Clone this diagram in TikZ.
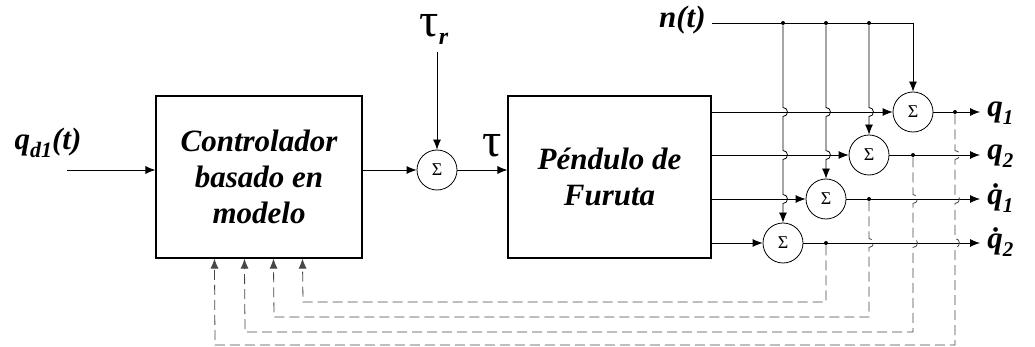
\documentclass[tikz,border=0pt]{standalone}
\usepackage{fontspec}
\setmainfont{Liberation Serif}
\usetikzlibrary{arrows.meta}
\newcommand\hopv[2]{-- (#1,#2-4.5) arc[start angle=90,end angle=-90,radius=4.5pt]}
\begin{document}
\begin{tikzpicture}[x=1pt,y=-1pt,
  line width=0.8pt,
  arr/.style={-{Latex[length=10pt,width=8pt]}},
  sumnode/.style={circle,draw,minimum size=40pt,inner sep=0pt,font=\fontsize{18}{18}\selectfont},
  block/.style={draw,line width=1.1pt,inner sep=0pt,align=center,font=\fontsize{31}{36}\selectfont\bfseries\itshape},
  lab/.style={inner sep=0pt,font=\fontsize{31}{31}\selectfont\bfseries\itshape},
  greek/.style={inner sep=0pt,anchor=base,font=\fontsize{48}{48}\selectfont,text height=24pt},
  fb/.style={dash pattern=on 10pt off 5pt,draw=black!72},
  dot/.style={circle,fill,inner sep=0pt,minimum size=4pt}]
\useasboundingbox (0,0) rectangle (1035,347);
% blocks
\node[block,minimum width=206pt,minimum height=162pt] (ctrl) at (259,177) {Controlador\\basado en\\modelo};
\node[block,minimum width=203pt,minimum height=162pt] (plant) at (609.5,177) {Péndulo de\\Furuta};
\node[sumnode] (s0) at (437,170) {Σ};
\node[sumnode] (sa) at (913,112) {Σ};
\node[sumnode] (sb) at (869,155) {Σ};
\node[sumnode] (sc) at (826,199) {Σ};
\node[sumnode] (sd) at (783,243) {Σ};
% labels
\node[lab] (qd) at (48,143) {q\raisebox{-0.28em}{\fontsize{22}{22}\selectfont d1}(t)};
\coordinate (qin) at (67,170);
\node[greek] (tr) at (434,37) {τ\raisebox{-0.15em}{\fontsize{24}{24}\selectfont\bfseries\itshape r}};
\coordinate (trin) at (437,52);
\node[greek] (tau) at (492,157) {τ};
\node[lab,anchor=east] (nt) at (706,20) {n(t)};
% outputs labels
\node[lab,anchor=west] (o1) at (987,113) {q\raisebox{-0.25em}{\fontsize{21}{21}\selectfont 1}};
\node[lab,anchor=west] (o2) at (987,156) {q\raisebox{-0.25em}{\fontsize{21}{21}\selectfont 2}};
\node[lab,anchor=west] (o3) at (987,198) {\.q\raisebox{-0.25em}{\fontsize{21}{21}\selectfont 1}};
\node[lab,anchor=west] (o4) at (987,242) {\.q\raisebox{-0.25em}{\fontsize{21}{21}\selectfont 2}};
\coordinate (e1) at (980,112);
\coordinate (e2) at (980,155);
\coordinate (e3) at (980,199);
\coordinate (e4) at (980,243);
% main path
\draw[arr] (qin) -- (qin -| ctrl.west);
\draw[arr] (ctrl.east |- s0) -- (s0.west);
\draw[arr] (trin) -- (s0.north);
\draw[arr] (s0.east) -- (s0 -| plant.west);
% plant outputs
\draw[arr] (plant.east |- sa) -- (sa.west);
\draw[arr] (plant.east |- sb) -- (sb.west);
\draw[arr] (plant.east |- sc) -- (sc.west);
\draw[arr] (plant.east |- sd) -- (sd.west);
% noise
\coordinate (n0) at (712,23);
\node[dot] (nd) at (783,23) {};
\node[dot] (nc) at (826,23) {};
\node[dot] (nb) at (869,23) {};
\draw[arr] (n0) -- (913,23) -- (sa.north);
\draw[arr] (nd) \hopv{783}{112} \hopv{783}{155} \hopv{783}{199} -- (sd.north);
\draw[arr] (nc) \hopv{826}{112} \hopv{826}{155} -- (sc.north);
\draw[arr] (nb) \hopv{869}{112} -- (sb.north);
% sum outputs
\draw[arr] (sa.east) -- (e1);
\draw[arr] (sb.east) -- (e2);
\draw[arr] (sc.east) -- (e3);
\draw[arr] (sd.east) -- (e4);
\node[dot] (d1) at (955,112) {};
\node[dot] (d2) at (913,155) {};
\node[dot] (d3) at (869,199) {};
\node[dot] (d4) at (826,243) {};
% feedback
\draw[fb,arr] (d1) \hopv{955}{155} \hopv{955}{199} \hopv{955}{243} -- (955,345) -- (215,345) -- ([xshift=59pt]ctrl.south west);
\draw[fb,arr] (d2) \hopv{913}{199} \hopv{913}{243} -- (913,332) -- (245,332) -- ([xshift=89pt]ctrl.south west);
\draw[fb,arr] (d3) \hopv{869}{243} -- (869,317) -- (274,317) -- ([xshift=118pt]ctrl.south west);
\draw[fb,arr] (d4) -- (826,302) -- (303,302) -- ([xshift=147pt]ctrl.south west);
\end{tikzpicture}
\end{document}
